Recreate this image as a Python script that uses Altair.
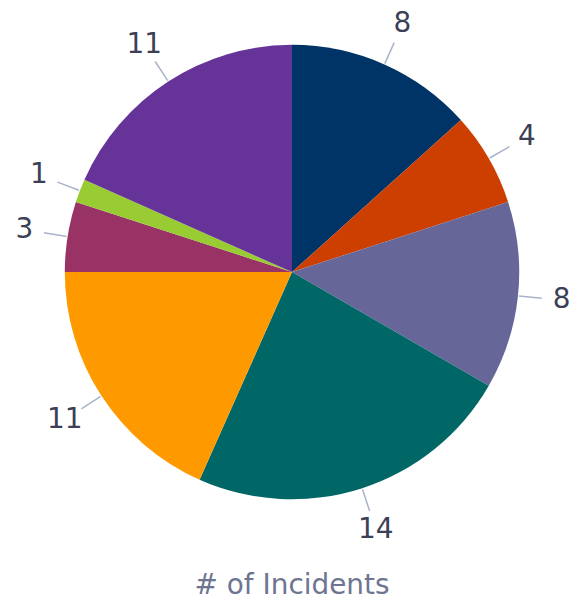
import altair as alt
import pandas as pd

categories = ["S1", "S2", "S3", "S4", "S5", "S6", "S7", "S8"]
values = [8, 4, 8, 14, 11, 3, 1, 11]
colors = ["#003366", "#CC3F00", "#666699", "#006666", "#FF9900", "#993366", "#99CC33", "#663399"]
title_text = "# of Incidents"

W, H = 586, 544
R = 228

df = pd.DataFrame({"category": categories, "value": values, "idx": list(range(len(values)))})

base = alt.Chart(df).encode(
    theta=alt.Theta("value:Q", stack=True),
    order=alt.Order("idx:Q"),
)

pie = base.mark_arc(outerRadius=R).encode(
    color=alt.Color("category:N", scale=alt.Scale(domain=categories, range=colors), legend=None)
)

labels = base.mark_text(radius=272, fontSize=28, color="#3c3f55", font="DejaVu Sans").encode(
    text="value:Q"
)

leaders = (
    alt.Chart(df)
    .transform_joinaggregate(total="sum(value)")
    .transform_window(cum="sum(value)", sort=[alt.SortField("idx")], frame=[None, 0])
    .transform_calculate(
        mid=f"(datum.cum - datum.value/2)/datum.total*2*PI",
    )
    .transform_calculate(
        x1=f"{W/2} + {R+1}*sin(datum.mid)",
        y1=f"{H/2} - {R+1}*cos(datum.mid)",
        x2=f"{W/2} + {R+24}*sin(datum.mid)",
        y2=f"{H/2} - {R+24}*cos(datum.mid)",
    )
    .mark_rule(color="#a9b3c8", strokeWidth=1.5)
    .encode(
        x=alt.X("x1:Q", scale=None, axis=None),
        y=alt.Y("y1:Q", scale=None, axis=None),
        x2="x2:Q",
        y2="y2:Q",
    )
)

chart = (
    alt.layer(leaders, pie, labels)
    .properties(
        width=W,
        height=H,
        padding={"left": 0, "top": 0, "right": 0, "bottom": 56},
        autosize=alt.AutoSizeParams(type="none"),
        title=alt.TitleParams(
            title_text,
            orient="bottom",
            fontSize=28,
            font="DejaVu Sans",
            fontWeight="normal",
            color="#6e7591",
            offset=28,
        ),
    )
    .configure_view(stroke=None)
)

chart.save("out.html", embed_options={"renderer": "svg", "actions": False})
